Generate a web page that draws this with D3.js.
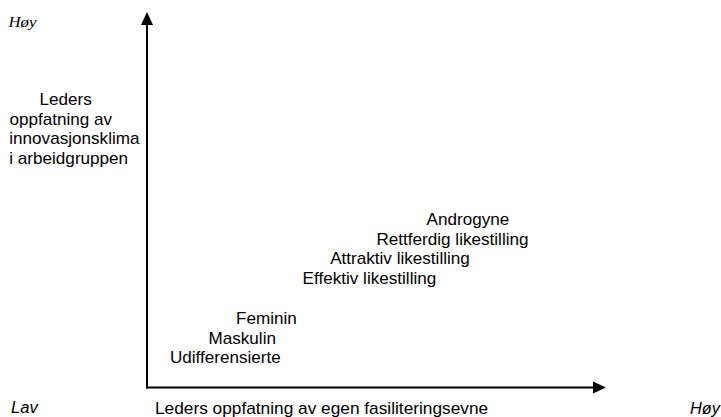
<!DOCTYPE html>
<html>
<head>
  <meta charset="utf-8">
  <script src="https://d3js.org/d3.v7.min.js"></script>
  <style>
    body { margin: 0; background: #fff; }
    svg { display: block; }
    text { font-family: "Liberation Sans", Arial, sans-serif; fill: #000; }
  </style>
</head>
<body>
<div id="chart"></div>
<script>
  // style labels placed on a low (0) .. high (100) plane
  var styles = ["Androgyne", "Rettferdig likestilling", "Attraktiv likestilling",
                "Effektiv likestilling", "Feminin", "Maskulin", "Udifferensierte"];
  // left edge of each label, on the x axis (fasiliteringsevne)
  var facilitation = [60.9, 50.0, 39.9, 33.9, 19.4, 13.4, 5.0];
  // baseline of each label, on the y axis (innovasjonsklima)
  var climate = [43.2, 38.0, 32.8, 27.6, 16.8, 11.6, 6.4];

  var yTitle = ["Leders", "oppfatning av", "innovasjonsklima", "i arbeidgruppen"];
  var xTitle = "Leders oppfatning av egen fasiliteringsevne";
  var lowLabel = "Lav", highLabel = "Høy";

  var width = 721, height = 417;
  var stretch = 1.07;  // the original text is a bit wide

  var svg = d3.select("#chart").append("svg")
    .attr("width", width)
    .attr("height", height);

  var x = d3.scaleLinear().domain([0, 100]).range([147, 606]);
  var y = d3.scaleLinear().domain([0, 100]).range([387.5, 12]);

  // axes with arrow heads
  var head = 13, half = 6;
  svg.append("line")
    .attr("x1", x(0)).attr("y1", y(0) + 1)
    .attr("x2", x(0)).attr("y2", y(100) + head)
    .attr("stroke", "#000").attr("stroke-width", 2);
  svg.append("path")
    .attr("d", "M" + x(0) + "," + y(100) + "L" + (x(0) - half) + "," + (y(100) + head) +
               "L" + (x(0) + half) + "," + (y(100) + head) + "Z")
    .attr("fill", "#000");

  svg.append("line")
    .attr("x1", x(0) - 1).attr("y1", y(0))
    .attr("x2", x(100) - head).attr("y2", y(0))
    .attr("stroke", "#000").attr("stroke-width", 2);
  svg.append("path")
    .attr("d", "M" + x(100) + "," + y(0) + "L" + (x(100) - head) + "," + (y(0) - half) +
               "L" + (x(100) - head) + "," + (y(0) + half) + "Z")
    .attr("fill", "#000");

  //helper for the slightly stretched text
  function wideText(tx, ty, str, size, sx) {
    return svg.append("g")
      .attr("transform", "translate(" + tx + "," + ty + ") scale(" + sx + ",1)")
      .append("text")
      .style("font-size", size + "px")
      .text(str);
  }

  // the style labels
  styles.forEach(function(s, i) {
    wideText(x(facilitation[i]), y(climate[i]), s, 16, stretch);
  });

  // y title
  var yTitleX = [39.5, 9.5, 9.3, 9.3];
  yTitle.forEach(function(t, i) {
    wideText(yTitleX[i], 105 + i * 19.5, t, 16, stretch);
  });

  // x title, with low / high at both ends of the same line
  wideText(155, 414, xTitle, 16, 1.08);
  wideText(11, 413, lowLabel, 16, 1.04).style("font-style", "italic");
  wideText(690, 414, highLabel, 16, 1.02).style("font-style", "italic");

  // high marker on the y axis
  wideText(8.5, 26.5, highLabel, 14, 1.2)
    .style("font-family", "'Liberation Serif', 'Times New Roman', serif")
    .style("font-style", "italic");
</script>
</body>
</html>
